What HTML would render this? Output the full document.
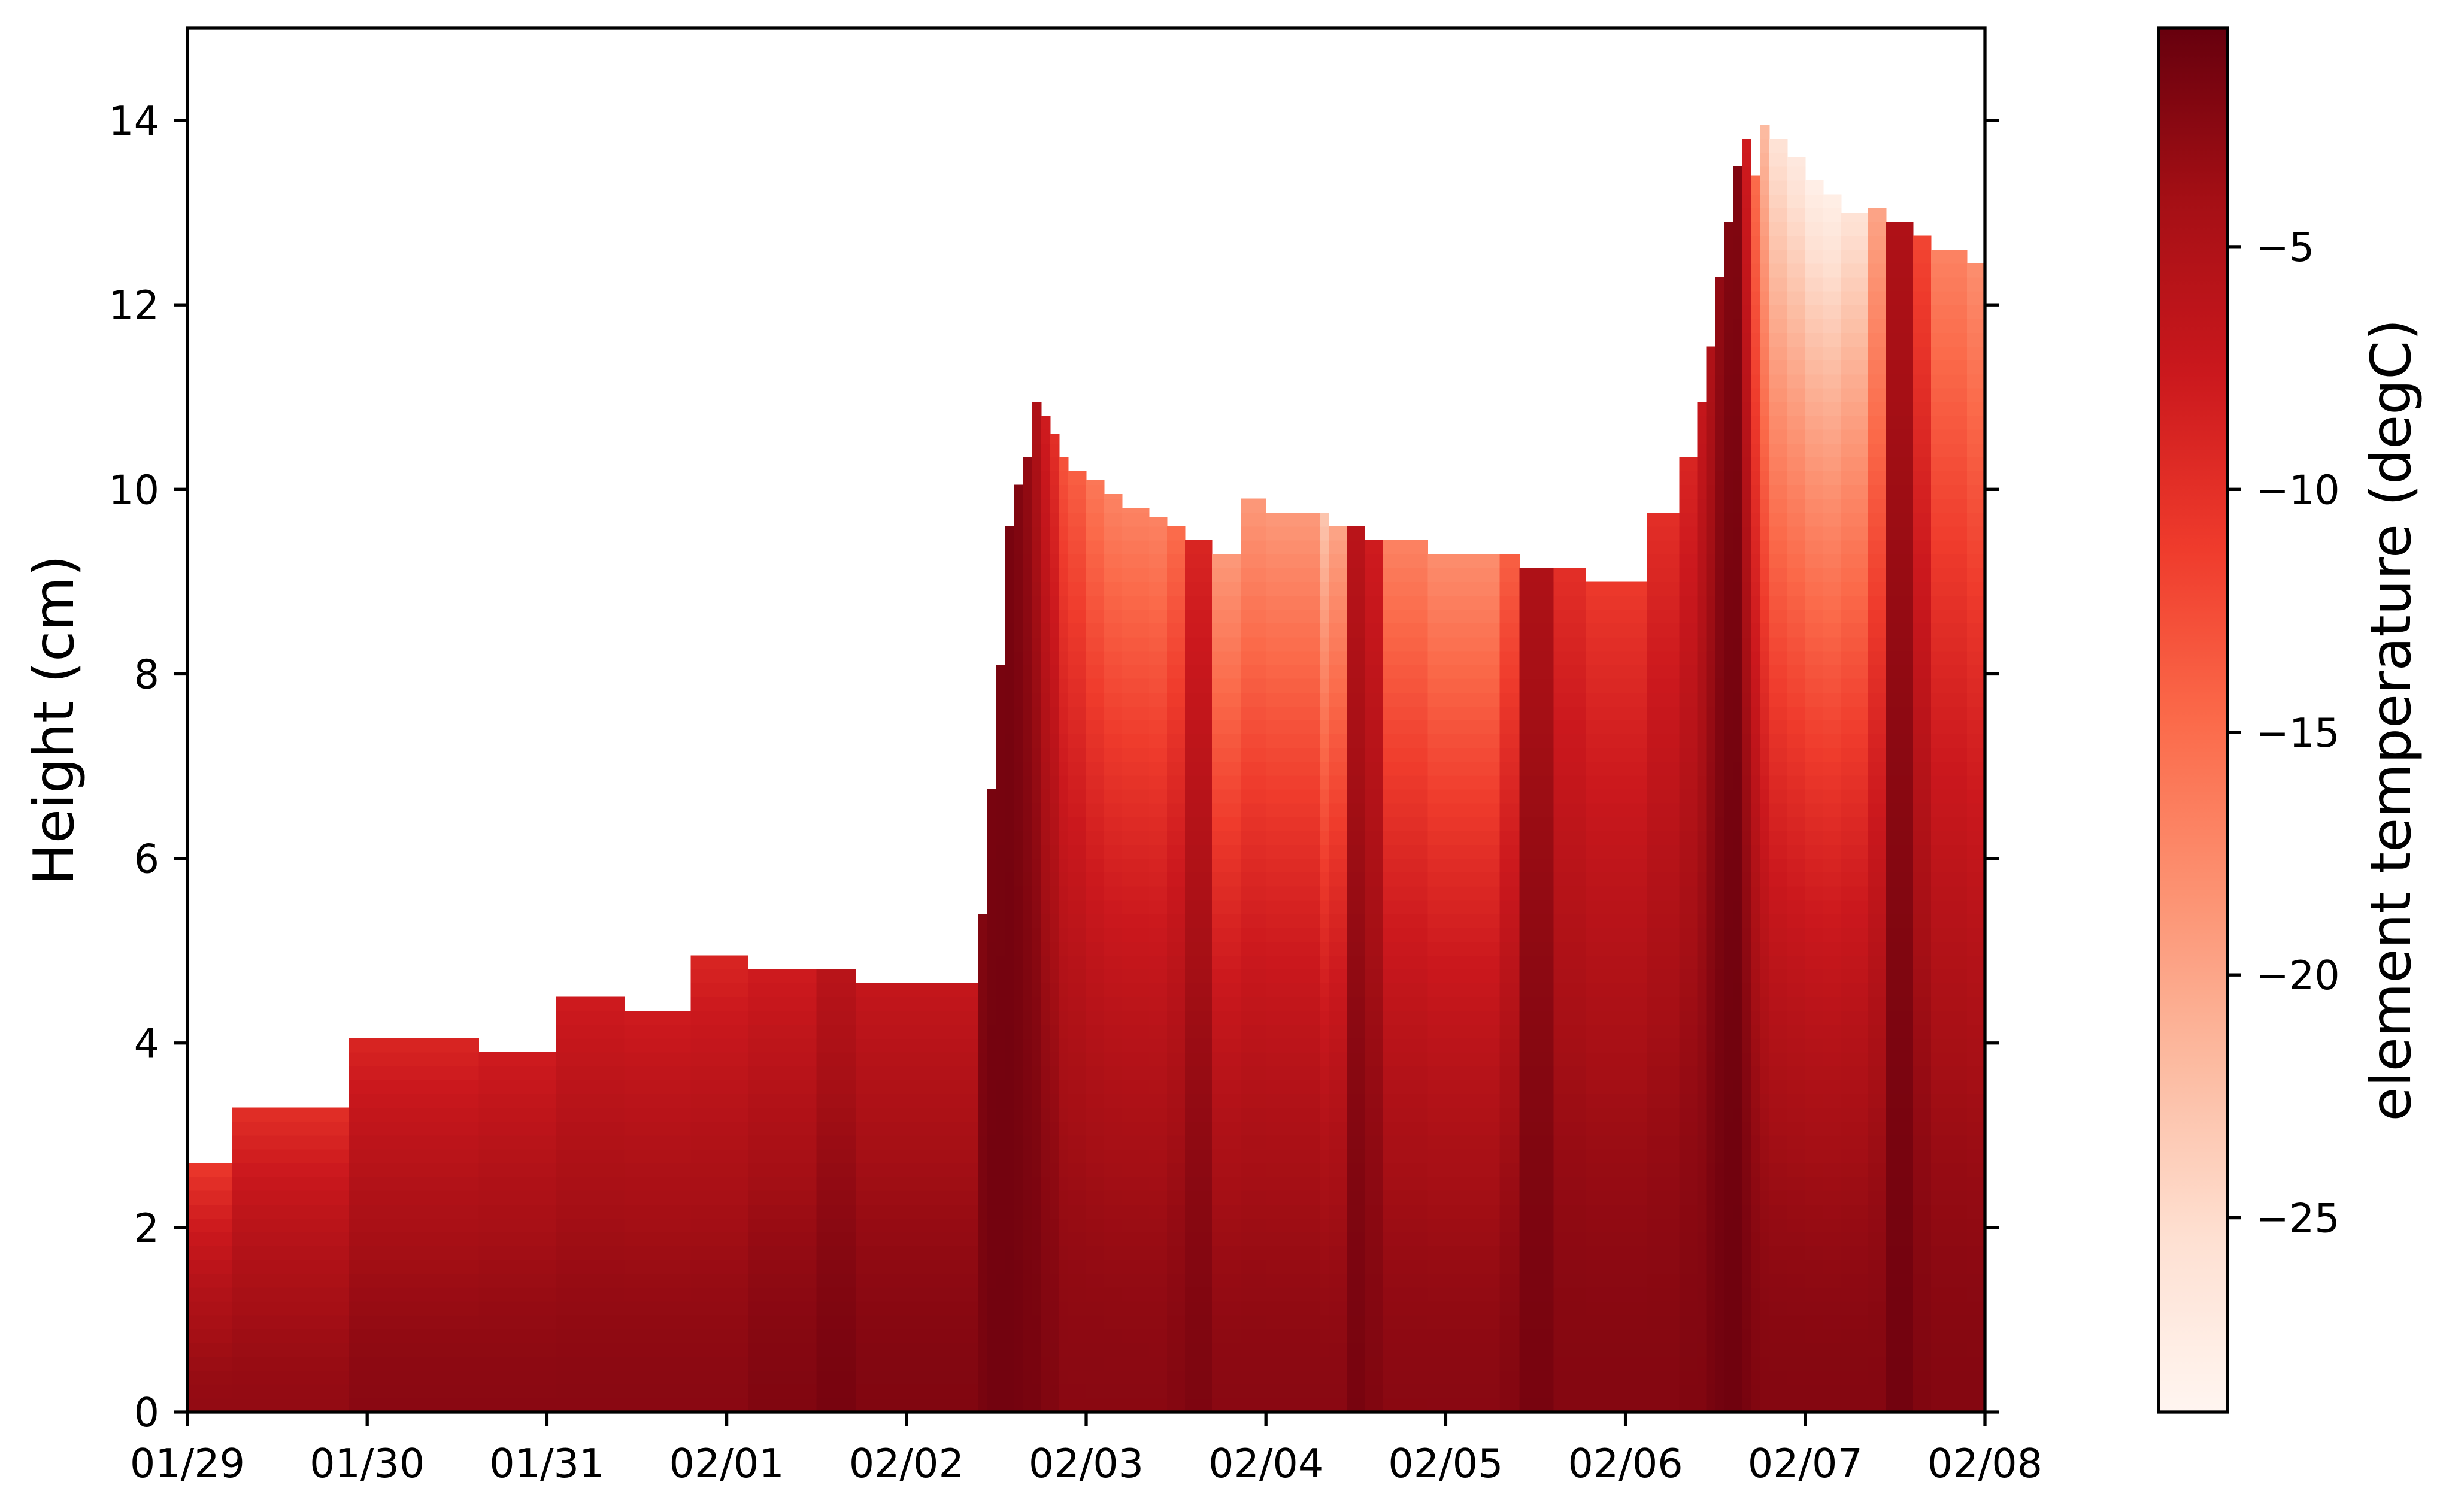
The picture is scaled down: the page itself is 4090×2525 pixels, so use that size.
<!DOCTYPE html>
<html><head><meta charset="utf-8">
<style>
html,body{margin:0;padding:0;background:#fff;}
svg{display:block;}
text{font-family:"DejaVu Sans","Liberation Sans",sans-serif;fill:#000;}
</style></head>
<body>
<svg id="chart" width="4090" height="2525" viewBox="0 0 4090 2525" xmlns="http://www.w3.org/2000/svg">
<g id="cells" shape-rendering="crispEdges"></g>
<g id="axes"></g>
<g id="cbar"></g>
</svg>
<script>
// segment start (days from 01/29), column height (cm), surface temp, base temp (degC)
const segStart = [0,0.25,0.9,1.62,2.05,2.43,2.8,3.12,3.5,3.72,4.2,4.4,4.45,4.5,4.55,4.6,4.65,4.7,4.75,4.8,4.85,4.9,5.0,5.1,5.2,5.35,5.45,5.55,5.7,5.86,6.0,6.3,6.35,6.45,6.55,6.65,6.9,7.3,7.41,7.6,7.78,8.12,8.3,8.4,8.45,8.5,8.55,8.6,8.65,8.7,8.75,8.8,8.9,9.0,9.1,9.2,9.35,9.45,9.6,9.7,9.9];
const segHeight = [2.7,3.3,4.05,3.9,4.5,4.35,4.95,4.8,4.8,4.65,4.65,5.4,6.75,8.1,9.6,10.05,10.35,10.95,10.8,10.6,10.35,10.2,10.1,9.95,9.8,9.7,9.6,9.45,9.3,9.9,9.75,9.75,9.6,9.6,9.45,9.45,9.3,9.3,9.15,9.15,9.0,9.75,10.35,10.95,11.55,12.3,12.9,13.5,13.8,13.4,13.95,13.8,13.6,13.35,13.2,13.0,13.05,12.9,12.75,12.6,12.45];
const segSurf = [-11,-10,-9,-8,-8,-8,-9,-8,-6,-7,-7,-2,-1.5,-1.5,-1.5,-2,-3,-5,-8,-10,-13,-14,-16,-17,-17,-17,-15,-9,-19,-19,-19,-23,-20,-6,-8,-17,-18,-14,-5,-10,-11,-10,-9,-7,-5,-3,-2,-2,-8,-15,-22,-26,-27,-28,-28,-26,-20,-5,-12,-17,-18];
const segBase = [-3,-3,-2.5,-2.5,-2.5,-2.5,-2.5,-2,-1.5,-2,-2,-1.5,-1.2,-1.2,-1.2,-1.3,-1.5,-1.5,-2,-2,-2.5,-2.5,-2.5,-2.5,-2.5,-2.5,-2.2,-1.8,-2.5,-2.5,-2.5,-2.5,-2.5,-1.5,-2,-2.5,-2.5,-2.2,-1.5,-2.2,-2.2,-2.2,-2,-2,-1.5,-1.2,-1,-1,-1.5,-2,-2.2,-2.2,-2.2,-2.2,-2.2,-2.2,-2.2,-1.2,-2,-2.2,-2.2];
const xTickLabels = ["01/29","01/30","01/31","02/01","02/02","02/03","02/04","02/05","02/06","02/07","02/08"];
const yTicks = [0,2,4,6,8,10,12,14];
const cbTicks = [-5,-10,-15,-20,-25];

const L=313,R=3315,T=47,B=2358, XMAX=10, YMAX=15;
const VMIN=-29, VMAX=-0.5;
const CL=3605, CR=3720;
const xs = d => L + (R-L)*d/XMAX;
const ys = h => B - (B-T)*h/YMAX;
const cs = v => B - (B-T)*(v-VMIN)/(VMAX-VMIN);
const stops=["#fff5f0","#fee0d2","#fcbba1","#fc9272","#fb6a4a","#ef3b2c","#cb181d","#a50f15","#67000d"];
function hex(c){return [1,3,5].map(i=>parseInt(c.substr(i,2),16));}
function cmap(v){
  let t=(v-VMIN)/(VMAX-VMIN); t=Math.max(0,Math.min(1,t));
  const p=t*8, i=Math.min(7,Math.floor(p)), f=p-i;
  const a=hex(stops[i]), b=hex(stops[i+1]);
  return "rgb("+a.map((x,k)=>Math.round(x+(b[k]-x)*f)).join(",")+")";
}
const NS="http://www.w3.org/2000/svg";
function mk(tag, attrs, parent){const e=document.createElementNS(NS,tag);for(const k in attrs)e.setAttribute(k,attrs[k]);parent.appendChild(e);return e;}

const cells=document.getElementById('cells');
const DZ=0.15;
for(let s=0;s<segStart.length;s++){
  const t0=segStart[s], t1=(s+1<segStart.length)?segStart[s+1]:XMAX;
  const h=segHeight[s];
  const n=Math.ceil(h/DZ);
  for(let j=0;j<n;j++){
    const z0=j*DZ, z1=Math.min(h,(j+1)*DZ), zm=(z0+z1)/2;
    const v=segBase[s]+(segSurf[s]-segBase[s])*Math.pow(zm/h,1.7);
    const r=mk('rect',{x:xs(t0),y:ys(z1),width:xs(t1)-xs(t0)+0.5,height:ys(z0)-ys(z1)+0.5,fill:cmap(v)},cells);
    
    
  }
}

const ax=document.getElementById('axes');
const frame=mk('rect',{x:L,y:T,width:R-L,height:B-T,fill:'none',stroke:'#000','stroke-width':5.3},ax);


xTickLabels.forEach((lab,i)=>{
  const x=xs(i);
  const tk=mk('line',{x1:x,x2:x,y1:B,y2:B+23,stroke:'#000','stroke-width':5.3},ax);
  
  
  const tx=mk('text',{x:x,y:B+47+62,'font-size':66.7,'text-anchor':'middle'},ax);
  tx.textContent=lab;
  
  
});
yTicks.forEach(v=>{
  const y=ys(v);
  const tk=mk('line',{x1:L-23,x2:L,y1:y,y2:y,stroke:'#000','stroke-width':5.3},ax);
  
  
  const tk2=mk('line',{x1:R,x2:R+23,y1:y,y2:y,stroke:'#000','stroke-width':5.3},ax);
  
  
  const tx=mk('text',{x:L-47,y:y+24,'font-size':66.7,'text-anchor':'end'},ax);
  tx.textContent=v;
  
  
});
const yl=mk('text',{x:0,y:0,'font-size':93,'text-anchor':'middle',transform:'translate(122,'+((T+B)/2)+') rotate(-90)'},ax);
yl.textContent='Height (cm)';



const cb=document.getElementById('cbar');
const defs=mk('defs',{},cb);
const grad=mk('linearGradient',{id:'g',x1:0,y1:1,x2:0,y2:0},defs);
for(let i=0;i<=40;i++){const v=VMIN+(VMAX-VMIN)*i/40;mk('stop',{offset:i/40,'stop-color':cmap(v)},grad);}
const cbr=mk('rect',{x:CL,y:T,width:CR-CL,height:B-T,fill:'url(#g)',stroke:'#000','stroke-width':5.3},cb);


cbTicks.forEach(v=>{
  const y=cs(v);
  const tk=mk('line',{x1:CR,x2:CR+23,y1:y,y2:y,stroke:'#000','stroke-width':5.3},cb);
  
  
  const tx=mk('text',{x:CR+47,y:y+24,'font-size':66.7},cb);
  tx.textContent='\u2212'+Math.abs(v);
  
  
});
const cl=mk('text',{x:0,y:0,'font-size':93,'text-anchor':'middle',transform:'translate(4025,'+((T+B)/2)+') rotate(-90)'},cb);
cl.textContent='element temperature (degC)';


</script>
</body></html>
